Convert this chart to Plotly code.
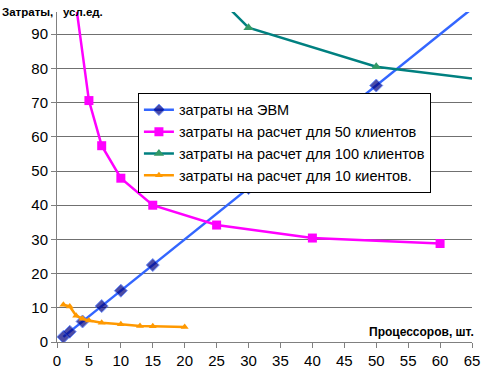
import plotly.graph_objects as go

# Data
evm_x = [1, 2, 4, 7, 10, 15, 30, 50, 70]
evm_y = [1.5, 3, 6, 10.5, 15, 22.5, 45, 75, 105]
evm_marker_x = [1, 2, 4, 7, 10, 15, 30, 50]

c50_x = [2, 5, 7, 10, 15, 25, 40, 60]
c50_y = [112, 70.6, 57.4, 47.9, 40.0, 34.2, 30.4, 28.8]

c100_x = [15, 30, 50, 100]
c100_y = [120, 91.9, 80.5, 69]

c10_x = [1, 2, 3, 4, 5, 7, 10, 13, 15, 20]
c10_y = [10.9, 10.4, 7.7, 6.8, 6.3, 5.6, 5.2, 4.7, 4.6, 4.4]

names = [
    "затраты на ЭВМ",
    "затраты на расчет для 50 клиентов",
    "затраты на расчет для 100 клиентов",
    "затраты на расчет для 10 киентов.",
]

x_ticks = list(range(0, 70, 5))
y_ticks = list(range(0, 100, 10))

fig = go.Figure()
evm_sizes = [10 if x in evm_marker_x else 0 for x in evm_x]
fig.add_trace(go.Scatter(
    x=evm_x, y=evm_y, mode="lines+markers", name=names[0],
    line=dict(color="#3366FF", width=2.5),
    marker=dict(symbol="diamond", size=evm_sizes, color="#000080"),
))
fig.add_trace(go.Scatter(
    x=c50_x, y=c50_y, mode="lines+markers", name=names[1],
    line=dict(color="#FF00FF", width=2.5),
    marker=dict(symbol="square", size=9, color="#FF00FF"),
))
fig.add_trace(go.Scatter(
    x=c100_x, y=c100_y, mode="lines+markers", name=names[2],
    line=dict(color="#008080", width=2.5),
    marker=dict(symbol="triangle-up", size=9, color="#339966"),
))
fig.add_trace(go.Scatter(
    x=c10_x, y=c10_y, mode="lines+markers", name=names[3],
    line=dict(color="#FF9900", width=2.5),
    marker=dict(symbol="triangle-up", size=7, color="#FF9900"),
))

font_main = "Liberation Sans, Arial, sans-serif"

fig.update_layout(
    width=482, height=372,
    margin=dict(l=57, r=10, t=12, b=30),
    paper_bgcolor="white", plot_bgcolor="white",
    font=dict(family=font_main, size=14, color="black"),
    showlegend=True,
    legend=dict(
        x=0.195, y=0.755, xanchor="left", yanchor="top",
        bgcolor="white", bordercolor="black", borderwidth=1,
        font=dict(size=14.5, family=font_main), tracegroupgap=0,
    ),
    xaxis=dict(
        range=[0, 65], tickvals=x_ticks, ticktext=[str(v) for v in x_ticks],
        showgrid=False, zeroline=False, showline=True, linecolor="#808080",
        linewidth=1, ticks="outside", ticklen=5, tickcolor="#808080",
        tickfont=dict(size=15, family=font_main), automargin=False,
    ),
    yaxis=dict(
        range=[0, 96.5], tickvals=y_ticks, ticktext=[str(v) for v in y_ticks],
        showgrid=True, gridcolor="#707070", gridwidth=1, zeroline=False,
        showline=True, linecolor="#808080", linewidth=1, ticks="outside",
        ticklen=5, tickcolor="#808080",
        tickfont=dict(size=15, family=font_main), automargin=False,
    ),
    annotations=[
        dict(text="<b>Затраты,\u00a0\u00a0\u00a0усл.ед.</b>", xref="paper", yref="paper",
             x=-0.137, y=1.0, xanchor="left", yanchor="middle", showarrow=False,
             font=dict(size=11.5, family=font_main)),
        dict(text="<b>Процессоров, шт.</b>", xref="paper", yref="paper",
             x=1.01, y=0.03, xanchor="right", yanchor="middle", showarrow=False,
             font=dict(size=12, family=font_main)),
    ],
)

fig.write_html("out.html")
